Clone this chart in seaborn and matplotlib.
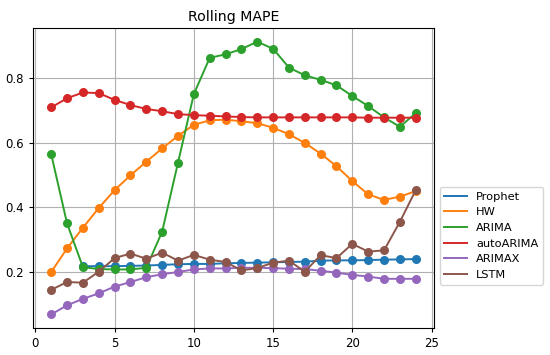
import numpy as np
import pandas as pd
import matplotlib
matplotlib.use("Agg")
import matplotlib.pyplot as plt
import seaborn as sns

steps = list(range(1, 25))
nan = np.nan
prophet = [nan, nan, 0.218, 0.218, 0.218, 0.219, 0.220, 0.222, 0.224, 0.225, 0.225, 0.227,
           0.228, 0.229, 0.230, 0.231, 0.232, 0.235, 0.236, 0.236, 0.237, 0.238, 0.239, 0.240]
hw = [0.200, 0.273, 0.337, 0.398, 0.453, 0.499, 0.541, 0.582, 0.621, 0.655, 0.669, 0.671,
      0.666, 0.660, 0.646, 0.626, 0.599, 0.566, 0.527, 0.481, 0.440, 0.423, 0.433, 0.450]
arima = [0.564, 0.350, 0.215, 0.209, 0.208, 0.208, 0.213, 0.325, 0.538, 0.750, 0.862, 0.873,
         0.889, 0.912, 0.890, 0.832, 0.808, 0.794, 0.777, 0.744, 0.713, 0.678, 0.649, 0.691]
autoarima = [0.709, 0.737, 0.755, 0.753, 0.732, 0.716, 0.704, 0.697, 0.688, 0.685, 0.683, 0.681,
             0.679, 0.678, 0.678, 0.678, 0.678, 0.678, 0.678, 0.678, 0.677, 0.677, 0.677, 0.677]
arimax = [0.069, 0.097, 0.117, 0.134, 0.155, 0.169, 0.184, 0.193, 0.200, 0.208, 0.211, 0.211,
          0.213, 0.213, 0.212, 0.210, 0.209, 0.204, 0.198, 0.191, 0.186, 0.179, 0.179, 0.179]
lstm = [0.145, 0.169, 0.167, 0.201, 0.243, 0.257, 0.241, 0.260, 0.235, 0.253, 0.238, 0.231,
        0.205, 0.212, 0.229, 0.235, 0.201, 0.252, 0.243, 0.287, 0.263, 0.267, 0.355, 0.453]

models = ["Prophet", "HW", "ARIMA", "autoARIMA", "ARIMAX", "LSTM"]
series = [prophet, hw, arima, autoarima, arimax, lstm]

rows = []
for name, vals in zip(models, series):
    for s, v in zip(steps, vals):
        rows.append({"step": s, "MAPE": v, "model": name})
df = pd.DataFrame(rows)

plt.rcParams.update({
    "xtick.labelsize": 8.5,
    "ytick.labelsize": 8.5,
    "axes.titlesize": 10.2,
    "xtick.major.size": 3,
    "ytick.major.size": 3,
})

fig = plt.figure(figsize=(5.5, 3.55), dpi=100)
ax = fig.add_axes([0.06, 0.076, 0.729, 0.845])
palette = dict(zip(models, sns.color_palette("tab10", 6)))
sns.lineplot(data=df, x="step", y="MAPE", hue="model", hue_order=models, palette=palette,
             marker="o", markersize=6.5, markeredgewidth=0, linewidth=1.4, ax=ax)
ax.set_xlabel("")
ax.set_ylabel("")
ax.set_title("Rolling MAPE", pad=5)
ax.set_xticks([0, 5, 10, 15, 20, 25])
ax.set_yticks([0.2, 0.4, 0.6, 0.8])
ax.grid(True, color="#b0b0b0", linewidth=0.8)
ax.set_axisbelow(True)
leg = ax.legend(loc="center left", bbox_to_anchor=(1.0, 0.307), fontsize=8.2)
for h in leg.legend_handles:
    h.set_marker("")
fig.savefig("out.png", dpi=100)
